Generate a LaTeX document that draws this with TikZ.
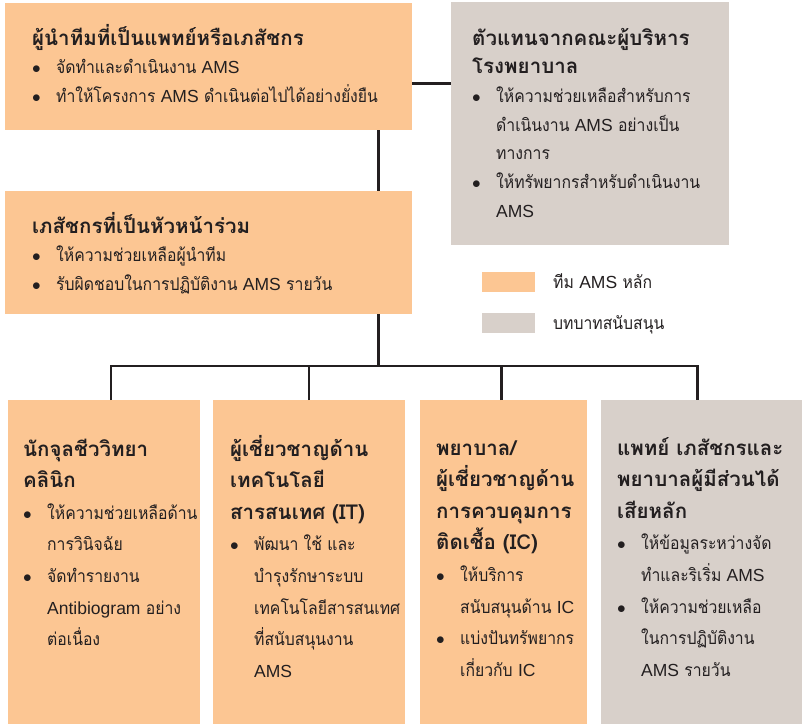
\documentclass[tikz,border=0pt]{standalone}
\usepackage{fontspec}
\newfontfamily\thaifont[Script=Thai,FakeStretch=0.9]{Loma}
\newfontfamily\thaihead[Script=Thai]{Loma}
\newfontfamily\latinfont{Liberation Sans}
\definecolor{coreorange}{HTML}{FCC693}
\definecolor{supportgrey}{HTML}{D8D0CA}
\definecolor{inkdark}{HTML}{231F20}
\newcommand{\bul}{\makebox[24pt][l]{$\bullet$}}
\newcommand{\cnt}{\hspace*{24pt}}
\newcommand{\la}[1]{{\latinfont #1}}
\newcommand{\hd}[1]{{\thaihead\bfseries\fontsize{20.5}{28}\selectfont #1}}
\newcommand{\lines}[1]{\begin{tabular}[t]{@{}l@{}}#1\end{tabular}}
\begin{document}
\begin{tikzpicture}[x=1pt,y=-1pt,
	corebox/.style={fill=coreorange,anchor=north west,inner sep=0pt},
	supportbox/.style={fill=supportgrey,anchor=north west,inner sep=0pt},
	toptext/.style={anchor=base west,inner sep=0pt,text=inkdark,font=\thaifont\fontsize{17.5}{28.7}\selectfont},
	lowtext/.style={anchor=base west,inner sep=0pt,text=inkdark,font=\thaifont\fontsize{17.5}{31.6}\selectfont},
	link/.style={draw=inkdark,line width=2.5pt}]
	\useasboundingbox (0,0) rectangle (802,724);
	% boxes
	\node[corebox,minimum width=407,minimum height=127] (lead) at (5,3) {};
	\node[supportbox,minimum width=278,minimum height=243] (exec) at (451,2) {};
	\node[corebox,minimum width=407,minimum height=123] (colead) at (5,191) {};
	\node[corebox,minimum width=192,minimum height=324] (micro) at (8,400) {};
	\node[corebox,minimum width=192,minimum height=324] (it) at (213,400) {};
	\node[corebox,minimum width=167,minimum height=324] (icn) at (420,400) {};
	\node[supportbox,minimum width=201,minimum height=324] (stake) at (601,400) {};
	% legend
	\node[corebox,minimum width=53,minimum height=20] (keycore) at (482,272) {};
	\node[supportbox,minimum width=53,minimum height=20] (keysupport) at (482,313) {};
	\node[toptext] (keycoretxt) at (553,288) {ทีม \la{AMS} หลัก};
	\node[toptext] (keysupporttxt) at (553,329) {บทบาทสนับสนุน};
	% connectors
	\draw[link] ([yshift=-17pt]lead.east) -- ([yshift=-17pt]lead.east -| exec.west);
	\draw[link] ([xshift=170pt]lead.south) -- ([xshift=170pt]colead.north);
	\draw[link] ([xshift=170pt]colead.south) -- ++(0,52);
	\draw[link] ([xshift=7pt]micro.north) -- ++(0,-34) -| ([xshift=-4pt]stake.north);
	\draw[link] (it.north) -- ++(0,-34);
	\draw[link] ([xshift=-2pt]icn.north) -- ++(0,-34);
	% texts
	\node[toptext] (leadtxt) at (32,45) {\lines{%
		\hd{ผู้นำทีมที่เป็นแพทย์หรือเภสัชกร}\\
		\bul จัดทำและดำเนินงาน \la{AMS}\\
		\bul ทำให้โครงการ \la{AMS} ดำเนินต่อไปได้อย่างยั่งยืน}};
	\node[toptext] (exectxt) at (472,45) {\lines{%
		\hd{ตัวแทนจากคณะผู้บริหาร}\\
		\hd{โรงพยาบาล}\\
		\bul ให้ความช่วยเหลือสำหรับการ\\
		\cnt ดำเนินงาน \la{AMS} อย่างเป็น\\
		\cnt ทางการ\\
		\bul ให้ทรัพยากรสำหรับดำเนินงาน\\
		\cnt \la{AMS}}};
	\node[toptext] (coleadtxt) at (32,233) {\lines{%
		\hd{เภสัชกรที่เป็นหัวหน้าร่วม}\\
		\bul ให้ความช่วยเหลือผู้นำทีม\\
		\bul รับผิดชอบในการปฏิบัติงาน \la{AMS} รายวัน}};
	\node[lowtext] (microtxt) at (23,456) {\lines{%
		\hd{นักจุลชีววิทยา}\\
		\hd{คลินิก}\\
		\bul ให้ความช่วยเหลือด้าน\\
		\cnt การวินิจฉัย\\
		\bul จัดทำรายงาน\\
		\cnt \la{Antibiogram} อย่าง\\
		\cnt ต่อเนื่อง}};
	\node[lowtext] (ittxt) at (230,456) {\lines{%
		\hd{ผู้เชี่ยวชาญด้าน}\\
		\hd{เทคโนโลยี}\\
		\hd{สารสนเทศ (IT)}\\
		\bul พัฒนา ใช้ และ\\
		\cnt บำรุงรักษาระบบ\\
		\cnt เทคโนโลยีสารสนเทศ\\
		\cnt ที่สนับสนุนงาน\\
		\cnt \la{AMS}}};
	\node[lowtext] (icntxt) at (436,455) {\lines{%
		\hd{พยาบาล/}\\
		\hd{ผู้เชี่ยวชาญด้าน}\\
		\hd{การควบคุมการ}\\
		\hd{ติดเชื้อ (IC)}\\
		\bul ให้บริการ\\
		\cnt สนับสนุนด้าน \la{IC}\\
		\bul แบ่งปันทรัพยากร\\
		\cnt เกี่ยวกับ \la{IC}}};
	\node[lowtext] (staketxt) at (617,455) {\lines{%
		\hd{แพทย์ เภสัชกรและ}\\
		\hd{พยาบาลผู้มีส่วนได้}\\
		\hd{เสียหลัก}\\
		\bul ให้ข้อมูลระหว่างจัด\\
		\cnt ทำและริเริ่ม \la{AMS}\\
		\bul ให้ความช่วยเหลือ\\
		\cnt ในการปฏิบัติงาน\\
		\cnt \la{AMS} รายวัน}};
\end{tikzpicture}
\end{document}
